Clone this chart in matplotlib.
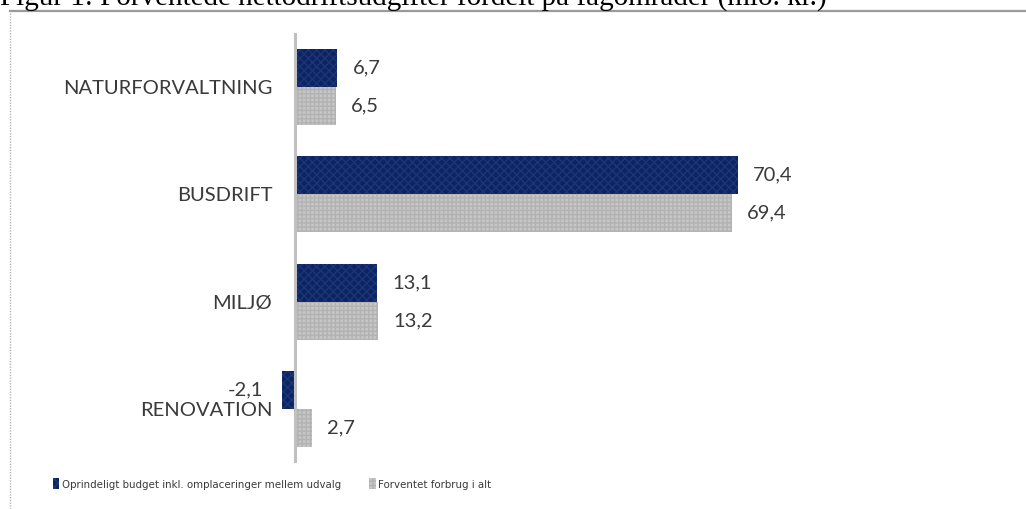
import numpy as np
import matplotlib
matplotlib.use("Agg")
import matplotlib.pyplot as plt
from matplotlib.lines import Line2D

# data
categories = ["NATURFORVALTNING", "BUSDRIFT", "MILJØ", "RENOVATION"]
budget = [6.7, 70.4, 13.1, -2.1]
forbrug = [6.5, 69.4, 13.2, 2.7]
series_names = ["Oprindeligt budget inkl. omplaceringer mellem udvalg",
                "Forventet forbrug i alt"]
title = "Figur 1: Forventede nettodriftsudgifter fordelt på fagområder (mio. kr.)"

W, H = 1026, 509
fig = plt.figure(figsize=(W / 100, H / 100), dpi=100)

# axes placed in pixel terms: zero at x=295, 6.29 px per unit
xmin, xmax = -2.5, 80
ppu = 6.29
left_px = 295 + xmin * ppu
right_px = 295 + xmax * ppu
top_px, bot_px = 33, 463
ax = fig.add_axes([left_px / W, 1 - bot_px / H,
                   (right_px - left_px) / W, (bot_px - top_px) / H])

navy = "#0c2462"
grey = "#c6c6c6"
h = 0.354
y = np.arange(len(categories))

bars1 = ax.barh(y - h / 2, budget, height=h, color=navy, hatch="xxxx",
                edgecolor="#1b3576", linewidth=0, label=series_names[0])
bars2 = ax.barh(y + h / 2, forbrug, height=h, color=grey, hatch="++++",
                edgecolor="#b2b2b2", linewidth=0, label=series_names[1])

ax.set_xlim(xmin, xmax)
ax.set_ylim(len(categories) - 0.5, -0.5)
for s in ax.spines.values():
    s.set_visible(False)
ax.axvline(0, color="#c0c0c0", lw=2.2)
ax.set_xticks([])
ax.set_yticks(y)
ax.set_yticklabels(categories, fontsize=14.5, color="#3a3a3a", family="Lato")
ax.tick_params(axis="y", length=0, pad=5)

# value labels
for bars, vals in ((bars1, budget), (bars2, forbrug)):
    for b, v in zip(bars, vals):
        yc = b.get_y() + b.get_height() / 2
        txt = f"{v:.1f}".replace(".", ",")
        if v >= 0:
            ax.annotate(txt, (v, yc), xytext=(11, 0), textcoords="offset points",
                        ha="left", va="center", fontsize=14.5, color="#3a3a3a",
                        family="Lato")
        else:
            ax.annotate(txt, (v, yc), xytext=(-13.5, 0), textcoords="offset points",
                        ha="right", va="center", fontsize=14.5, color="#3a3a3a",
                        family="Lato")

# legend
leg = fig.legend(handles=[bars1, bars2], loc="center", ncol=2,
                 bbox_to_anchor=(272 / W, 1 - 484 / H), frameon=False,
                 handlelength=0.6, handleheight=1.1, handletextpad=0.2,
                 columnspacing=2.5, borderpad=0, borderaxespad=0,
                 prop={"family": "DejaVu Sans", "stretch": "condensed", "size": 8.2})
for t in leg.get_texts():
    t.set_color("#3a3a3a")

# frame around the chart
fig.add_artist(Line2D([10 / W, 1], [1 - 11 / H, 1 - 11 / H],
                      transform=fig.transFigure, color="#9a9a9a", lw=1.6))
fig.add_artist(Line2D([10 / W, 10 / W], [0, 1 - 11 / H],
                      transform=fig.transFigure, color="#b5b5b5", lw=1,
                      ls=(0, (1, 1))))

# caption, cut off at the top edge like in the source document
fig.text(0, 1 - 6 / H, title, ha="left", va="baseline", fontsize=21,
         family="Liberation Serif", color="black")

fig.savefig("out.png", dpi=100)
